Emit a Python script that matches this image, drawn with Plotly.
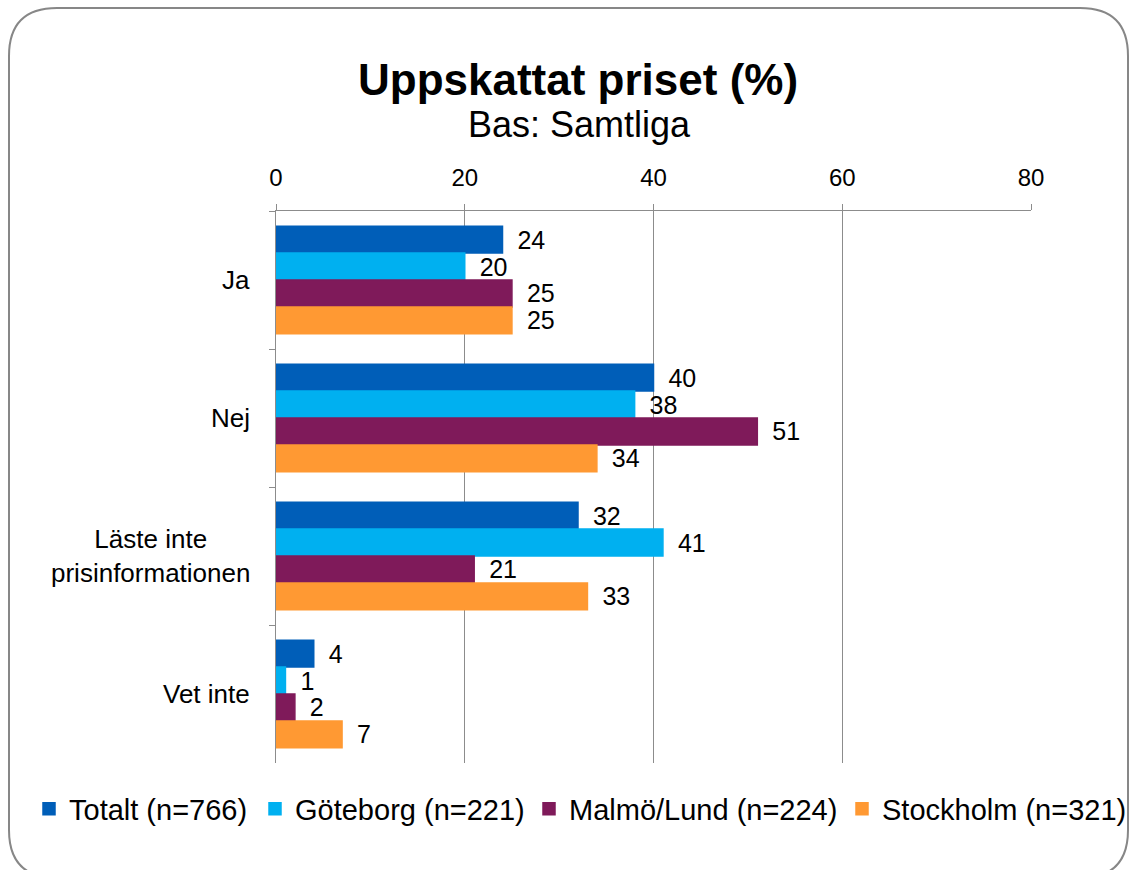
import plotly.graph_objects as go

categories = ["Ja", "Nej", "Läste inte<br>prisinformationen", "Vet inte"]
series_names = ["Totalt (n=766)", "Göteborg (n=221)", "Malmö/Lund (n=224)", "Stockholm (n=321)"]
totalt = [24, 40, 32, 4]
goteborg = [20, 38, 41, 1]
malmo = [25, 51, 21, 2]
stockholm = [25, 34, 33, 7]
x_ticks = [0, 20, 40, 60, 80]

series_values = [totalt, goteborg, malmo, stockholm]
colors = ["#005EB8", "#00B0F0", "#7F1A5A", "#FF9933"]
legend_text_x = [70, 296, 570, 883]   # pixel where each legend label starts

W, H = 1132, 870
L, R, T, B = 276, 1031, 211, 763
pw, ph = R - L, B - T

def px(x):
    return (x - L) / pw

def py(y):
    return 1 - (y - T) / ph

FONT = "Liberation Sans, Arial, sans-serif"

fig = go.Figure()
legend_ids = ["legend", "legend2", "legend3", "legend4"]
for name, vals, c, lid in zip(series_names, series_values, colors, legend_ids):
    fig.add_trace(go.Bar(
        y=categories, x=vals, name=name, orientation="h",
        marker=dict(color=c, line=dict(width=1.5, color=c)),
        text=vals, texttemplate="\u00a0\u2009%{x}", textposition="outside",
        textfont=dict(family=FONT, size=25, color="black"),
        constraintext="none", cliponaxis=False, legend=lid,
    ))

# rounded frame
x0, y0, x1, y1, r = 9, 8, 1128, 878, 48
path = (f"M {px(x0+r)},{py(y0)} L {px(x1-r)},{py(y0)} Q {px(x1)},{py(y0)} {px(x1)},{py(y0+r)} "
        f"L {px(x1)},{py(y1-r)} Q {px(x1)},{py(y1)} {px(x1-r)},{py(y1)} "
        f"L {px(x0+r)},{py(y1)} Q {px(x0)},{py(y1)} {px(x0)},{py(y1-r)} "
        f"L {px(x0)},{py(y0+r)} Q {px(x0)},{py(y0)} {px(x0+r)},{py(y0)} Z")

annotations = [
    dict(text="<b>Uppskattat priset (%)</b>", xref="paper", yref="paper",
         x=px(578), y=py(79), showarrow=False, font=dict(size=44),
         xanchor="center", yanchor="middle"),
    dict(text="Bas: Samtliga", xref="paper", yref="paper",
         x=px(579), y=py(125), showarrow=False, font=dict(size=36),
         xanchor="center", yanchor="middle"),
]
# category labels (centred multi-line text)
for c in categories:
    annotations.append(dict(text=c, xref="paper", yref="y", x=px(252), y=c,
                            xanchor="right", yanchor="middle", align="center",
                            showarrow=False, font=dict(size=26)))

legends = {}
for lid, tx in zip(legend_ids, legend_text_x):
    legends[lid] = dict(orientation="h", xref="container", yref="container",
                        x=(tx - 41) / W, y=1 - 809 / H, xanchor="left", yanchor="middle",
                        font=dict(size=29, family=FONT, color="black"), itemwidth=30,
                        bgcolor="rgba(0,0,0,0)")

fig.update_layout(
    width=W, height=H,
    margin=dict(l=L, r=W - R, t=T, b=H - B, pad=0),
    paper_bgcolor="white", plot_bgcolor="white",
    barmode="group", bargap=0.22, bargroupgap=0,
    font=dict(family=FONT, size=24, color="black"),
    showlegend=True,
    shapes=[dict(type="path", xref="paper", yref="paper", path=path,
                 line=dict(color="#878787", width=2), layer="below")],
    annotations=annotations,
    **legends,
)
fig.update_xaxes(
    side="top", range=[0, 80], tickvals=x_ticks, ticktext=[str(v) for v in x_ticks],
    showgrid=True, gridcolor="#8C8C8C", gridwidth=1,
    showline=True, linecolor="#8C8C8C", linewidth=1,
    ticks="outside", ticklen=6, tickcolor="#8C8C8C",
    zeroline=False, tickfont=dict(size=24), ticklabelstandoff=8,
)
fig.update_yaxes(
    autorange="reversed", showgrid=False, showline=True, linecolor="#8C8C8C",
    linewidth=1, ticks="outside", ticklen=6, tickcolor="#8C8C8C",
    tickson="boundaries", showticklabels=False,
)
fig.write_html("out.html", config={"displayModeBar": False},
               post_script="document.body.style.margin='0';")
